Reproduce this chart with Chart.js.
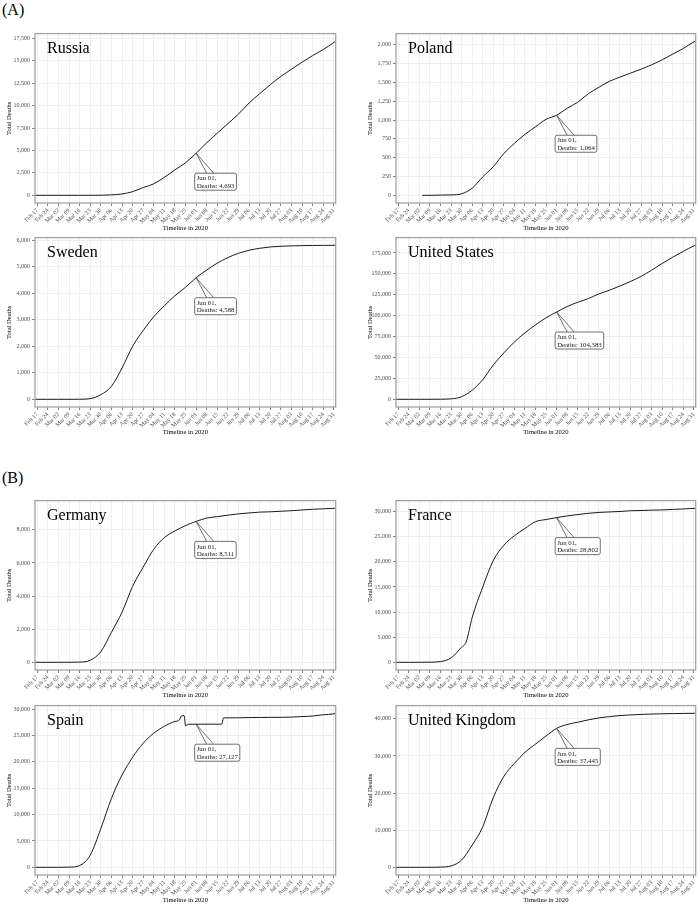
<!DOCTYPE html>
<html>
<head>
<meta charset="utf-8">
<script src="https://cdn.jsdelivr.net/npm/chart.js@4.4.1/dist/chart.umd.min.js"></script>
<style>
  body { margin: 0; background: #fff; width: 700px; height: 905px; position: relative; overflow: hidden; }
  canvas { position: absolute; }
  .tag { position: absolute; left: 2px; font: 16px "Liberation Serif", serif; line-height: 16px; color: #000; }
</style>
</head>
<body>
<div class="tag" style="top:2px">(A)</div>
<div class="tag" style="top:470px">(B)</div>
<canvas id="russia" width="340" height="205" style="left:0;top:28px"></canvas>
<canvas id="poland" width="350" height="205" style="left:350px;top:28px"></canvas>
<canvas id="sweden" width="340" height="205" style="left:0;top:232px"></canvas>
<canvas id="us" width="350" height="205" style="left:350px;top:232px"></canvas>
<canvas id="germany" width="340" height="205" style="left:0;top:495px"></canvas>
<canvas id="france" width="350" height="205" style="left:350px;top:495px"></canvas>
<canvas id="spain" width="340" height="205" style="left:0;top:700px"></canvas>
<canvas id="uk" width="350" height="205" style="left:350px;top:700px"></canvas>
<script>
// days counted from Feb 17, 2020
const tickLabels = ['Feb 17','Feb 24','Mar 02','Mar 09','Mar 16','Mar 23','Mar 30','Apr 06','Apr 13','Apr 20',
  'Apr 27','May 04','May 11','May 18','May 25','Jun 01','Jun 08','Jun 15','Jun 22','Jun 29','Jul 06','Jul 13',
  'Jul 20','Jul 27','Aug 03','Aug 10','Aug 17','Aug 24','Aug 31'];
const tickDays = [0,7,14,21,28,35,42,49,56,63,70,77,84,91,98,105,112,119,126,133,140,147,154,161,168,175,182,189,196];
const markDay = 105; // Jun 01

const weekDays = [-2,0,7,14,21,28,35,42,49,56,63,70,77,84,91,98,105,112,119,126,133,140,147,154,161,168,175,182,189,196,197];
const russiaDeaths = [0,0,0,0,0,0,1,10,47,148,405,867,1280,2009,2837,3633,4693,5859,6948,7992,9073,10296,11335,12342,13269,14058,14854,15585,16268,17045,17176];
const swedenDeaths = [0,0,0,0,0,2,25,175,490,1180,2000,2600,3120,3530,3910,4230,4588,4880,5140,5350,5510,5625,5700,5750,5775,5790,5800,5805,5809,5812,5812];
const usDeaths = [0,0,0,1,22,100,550,3100,10800,23500,41000,55500,68500,79500,89000,97500,104383,111000,116000,120500,126000,130500,135500,141000,147000,154500,162500,170000,177000,183500,184200];
const germanyDeaths = [0,0,0,0,2,13,123,645,1810,3022,4586,5750,6831,7533,7935,8257,8511,8711,8800,8887,8968,9020,9071,9090,9124,9156,9201,9243,9272,9300,9302];
const ukDeaths = [0,0,0,0,2,60,360,1960,5970,10900,18800,24500,28000,31000,33200,35400,37445,38490,39100,39730,40270,40620,40900,41070,41200,41300,41380,41430,41470,41500,41505];

const polandDays = [16,21,28,35,42,49,56,63,70,77,84,91,98,105,112,119,126,133,140,147,154,161,168,175,182,189,196,197];
const polandDeaths = [0,0,3,5,20,94,245,380,555,690,810,910,1010,1064,1157,1237,1350,1435,1515,1571,1624,1676,1735,1801,1877,1952,2039,2047];

const franceDays = [-2,0,7,14,21,28,35,42,45,49,56,63,70,77,84,91,98,105,112,119,126,133,140,147,154,161,168,175,182,189,196,197];
const franceDeaths = [0,0,0,2,25,148,860,3024,4040,8911,14967,20265,23293,25201,26643,28000,28432,28802,29155,29410,29663,29843,29936,30029,30177,30223,30296,30340,30434,30528,30640,30661];

const spainDays = [-2,0,7,14,21,28,35,42,49,56,63,70,77,84,91,94,95,97,98,100,105,122,123,126,133,140,147,154,161,168,175,182,189,196,197];
const spainDeaths = [0,0,0,0,28,342,2311,7340,13055,17489,20852,23521,25428,26744,27650,27940,28628,28752,26834,27117,27127,27136,28315,28324,28346,28388,28406,28422,28434,28472,28576,28670,28924,29094,29194];

Chart.defaults.font.family = '"Liberation Serif", "Times New Roman", serif';

const panelDecor = {
  id: 'panelDecor',
  afterDatasetsDraw(chart, args, opts) {
    const { ctx, chartArea: a, scales } = chart;
    ctx.save();
    ctx.strokeStyle = '#a3a3a3';
    ctx.lineWidth = 1.3;
    ctx.strokeRect(a.left, a.top, a.right - a.left, a.bottom - a.top);

    ctx.fillStyle = '#000';
    ctx.font = '16px "Liberation Serif"';
    ctx.textAlign = 'left';
    ctx.textBaseline = 'alphabetic';
    ctx.fillText(opts.name, a.left + 12, a.top + 19);

    // Jun 01 callout
    const px = scales.x.getPixelForValue(opts.day);
    const py = scales.y.getPixelForValue(opts.value);
    const lines = ['Jun 01,', 'Deaths: ' + opts.value.toLocaleString('en-US')];
    ctx.font = '6.8px "Liberation Serif"';
    const w = Math.max(...lines.map(t => ctx.measureText(t).width)) + 4;
    const bx = px - 1.5, by = py + 20, h = 17;
    ctx.strokeStyle = '#333';
    ctx.lineWidth = 0.7;
    ctx.beginPath();
    ctx.moveTo(px, py); ctx.lineTo(px + 10.5, by);
    ctx.moveTo(px, py); ctx.lineTo(px + 17.5, by);
    ctx.stroke();
    ctx.fillStyle = '#fff';
    ctx.beginPath();
    ctx.roundRect(bx, by, w, h, 2);
    ctx.fill();
    ctx.stroke();
    ctx.fillStyle = '#1a1a1a';
    ctx.fillText(lines[0], bx + 2, by + 7.2);
    ctx.fillText(lines[1], bx + 2, by + 14.6);
    ctx.restore();
  }
};

function makePanel(id, name, days, deaths, step, rightCol) {
  const top = Math.max(...deaths);
  const points = days.map((d, i) => ({ x: d, y: deaths[i] }));
  const markValue = deaths[days.indexOf(markDay)];
  new Chart(document.getElementById(id), {
    type: 'line',
    data: {
      datasets: [{
        data: points,
        borderColor: '#1a1a1a',
        borderWidth: 1,
        pointRadius: 0,
        cubicInterpolationMode: 'monotone',
        fill: false
      }]
    },
    options: {
      responsive: false,
      animation: false,
      devicePixelRatio: 1,
      layout: { padding: { top: 4, bottom: 0, left: rightCol ? 11 : 0, right: rightCol ? 3 : 4 } },
      plugins: {
        legend: { display: false },
        tooltip: { enabled: false },
        panelDecor: { name: name, day: markDay, value: markValue }
      },
      scales: {
        x: {
          type: 'linear',
          min: -1.5,
          max: 197.2,
          afterBuildTicks: s => { s.ticks = tickDays.map(v => ({ value: v })); },
          afterFit: s => { s.height = 30; },
          ticks: {
            autoSkip: false,
            minRotation: 45,
            maxRotation: 45,
            padding: 1,
            color: '#4d4d4d',
            font: { size: 6 },
            callback: v => tickLabels[tickDays.indexOf(v)]
          },
          grid: { color: '#ebebeb', lineWidth: 0.8, tickLength: 3, tickColor: '#333', tickWidth: 0.6 },
          border: { display: false },
          title: { display: true, text: 'Timeline in 2020', color: '#000', font: { size: 6.6 }, padding: { top: 0, bottom: 1 } }
        },
        y: {
          min: -0.05 * top,
          max: 1.05 * top,
          afterBuildTicks: s => {
            const t = [];
            for (let v = 0; v <= s.max; v += step) t.push({ value: v });
            s.ticks = t;
          },
          afterFit: s => { s.width = 35; },
          ticks: {
            padding: 2,
            color: '#4d4d4d',
            font: { size: 6 },
            callback: v => v.toLocaleString('en-US')
          },
          grid: { color: '#ebebeb', lineWidth: 0.8, tickLength: 3, tickColor: '#333', tickWidth: 0.6 },
          border: { display: false },
          title: { display: true, text: 'Total Deaths', color: '#000', font: { size: 6.6 }, padding: { top: 5, bottom: 0 } }
        }
      }
    },
    plugins: [panelDecor]
  });
}

makePanel('russia', 'Russia', weekDays, russiaDeaths, 2500, false);
makePanel('poland', 'Poland', polandDays, polandDeaths, 250, true);
makePanel('sweden', 'Sweden', weekDays, swedenDeaths, 1000, false);
makePanel('us', 'United States', weekDays, usDeaths, 25000, true);
makePanel('germany', 'Germany', weekDays, germanyDeaths, 2000, false);
makePanel('france', 'France', franceDays, franceDeaths, 5000, true);
makePanel('spain', 'Spain', spainDays, spainDeaths, 5000, false);
makePanel('uk', 'United Kingdom', weekDays, ukDeaths, 10000, true);
</script>
</body>
</html>
